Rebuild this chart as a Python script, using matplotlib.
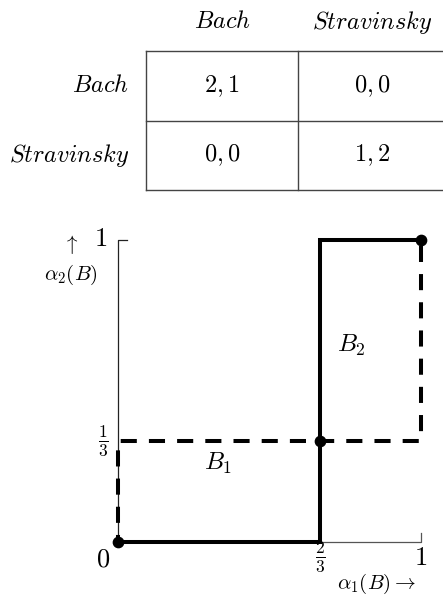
import matplotlib
matplotlib.use("Agg")
import matplotlib.pyplot as plt

plt.rcParams['mathtext.fontset'] = 'cm'
plt.rcParams['font.family'] = 'serif'
plt.rcParams['font.serif'] = ['cmr10', 'DejaVu Serif']
plt.rcParams['axes.formatter.use_mathtext'] = True

# payoff table
strategies = ['Bach', 'Stravinsky']
payoffs = [['2, 1', '0, 0'],
           ['0, 0', '1, 2']]

# best response curves (alpha1(B), alpha2(B))
br1_x = [0, 2/3, 2/3, 1]
br1_y = [0, 0, 1, 1]
br2_x = [0, 0, 1, 1]
br2_y = [0, 1/3, 1/3, 1]
eq_x = [0, 2/3, 1]
eq_y = [0, 1/3, 1]

W, H = 443, 596
fig = plt.figure(figsize=(W/100, H/100), dpi=100)

# ---- table, drawn in pixel units ----
tab = fig.add_axes([0, 0, 1, 1])
tab.set_xlim(0, W)
tab.set_ylim(H, 0)
tab.axis('off')
col_edges = [146, 298, 446]
row_edges = [51, 121, 190]
lc = '#444444'
for x in col_edges:
    tab.plot([x, x], [row_edges[0], row_edges[-1]], color=lc, lw=1)
for y in row_edges:
    tab.plot([col_edges[0], col_edges[-1]], [y, y], color=lc, lw=1)
for j, s in enumerate(strategies):
    cx = (col_edges[j] + col_edges[j+1]) / 2
    tab.text(cx, 22, r'$\mathit{%s}$' % s, ha='center', va='center', fontsize=17.5)
for i, s in enumerate(strategies):
    cy = (row_edges[i] + row_edges[i+1]) / 2
    tab.text(129, cy, r'$\mathit{%s}$' % s, ha='right', va='center', fontsize=17.5)
    for j in range(2):
        cx = (col_edges[j] + col_edges[j+1]) / 2
        tab.text(cx, cy, '$%s$' % payoffs[i][j], ha='center', va='center', fontsize=17.5)

# ---- best response plot ----
ax = fig.add_axes([118/W, (H-542)/H, 303/W, 302/H])
ax.set_xlim(0, 1)
ax.set_ylim(0, 1)
ax.axis('off')
ax.plot([0, 0, 0.03], [0, 1, 1], color='#222222', lw=0.9, clip_on=False)
ax.plot([0, 1, 1], [0, 0, 0.03], color='#555555', lw=0.9, clip_on=False)

lw = 2.9
ax.plot(br2_x, br2_y, color='black', lw=lw, ls=(2.25, (4.0, 3.0)),
        solid_joinstyle='miter', dash_capstyle='butt', clip_on=False)
ax.plot(br1_x, br1_y, color='black', lw=lw, solid_joinstyle='miter',
        clip_on=False)
ax.scatter(eq_x, eq_y, s=55, color='black', zorder=5, clip_on=False)

ax.text(-0.035, 1.003, '$1$', ha='right', va='center', fontsize=19)
ax.text(-0.03, 1/3, r'$\frac{1}{3}$', ha='right', va='center', fontsize=18)
ax.text(-0.05, -0.06, '$0$', ha='center', va='center', fontsize=19)
ax.text(2/3, -0.05, r'$\frac{2}{3}$', ha='center', va='center', fontsize=18)
ax.text(1, -0.055, '$1$', ha='center', va='center', fontsize=19)
ax.text(-0.155, 0.985, r'$\uparrow$', ha='center', va='center', fontsize=15)
ax.text(-0.155, 0.885, r'$\alpha_2(B)$', ha='center', va='center', fontsize=15)
ax.text(0.855, -0.14, r'$\alpha_1(B)\rightarrow$', ha='center', va='center', fontsize=15)
ax.text(0.33, -0.073 + 1/3, '$B_1$', ha='center', va='center', fontsize=18)
ax.text(0.77, 0.65, '$B_2$', ha='center', va='center', fontsize=18)

fig.savefig('out.png', dpi=100)
